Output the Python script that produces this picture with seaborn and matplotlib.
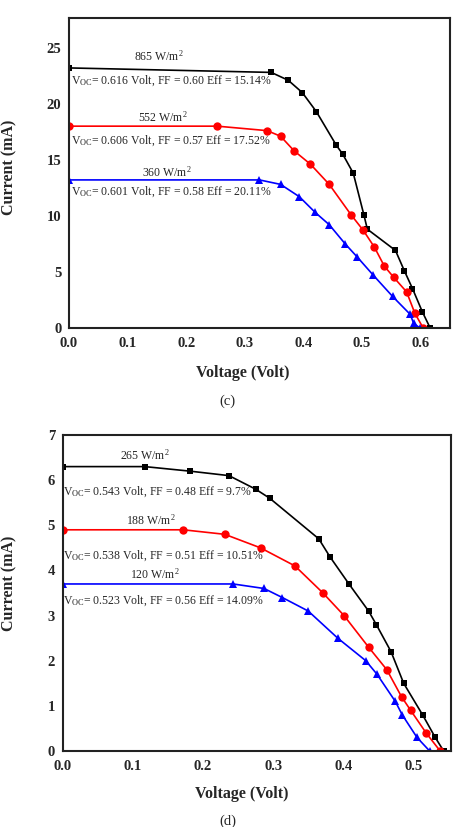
import pandas as pd
import matplotlib
matplotlib.use("Agg")
import matplotlib.pyplot as plt
import seaborn as sns

# panel (c)
v865 = [0, 0.345, 0.374, 0.398, 0.422, 0.456, 0.467, 0.485, 0.503, 0.509, 0.557, 0.572, 0.586, 0.603, 0.616]
i865 = [23.2, 22.8, 22.1, 21.0, 19.3, 16.3, 15.5, 13.8, 10.1, 8.8, 6.9, 5.1, 3.5, 1.4, 0]
v552 = [0, 0.253, 0.338, 0.361, 0.384, 0.412, 0.444, 0.481, 0.502, 0.521, 0.538, 0.554, 0.576, 0.590, 0.604]
i552 = [18.0, 18.0, 17.6, 17.1, 15.8, 14.6, 12.8, 10.1, 8.7, 7.2, 5.5, 4.5, 3.2, 1.3, 0]
v360 = [0, 0.325, 0.361, 0.393, 0.420, 0.444, 0.471, 0.492, 0.519, 0.552, 0.582, 0.588, 0.598]
i360 = [13.2, 13.2, 12.8, 11.7, 10.3, 9.2, 7.5, 6.3, 4.7, 2.8, 1.2, 0.4, 0]

# panel (d)
v265 = [0, 0.117, 0.181, 0.237, 0.275, 0.295, 0.365, 0.381, 0.408, 0.436, 0.447, 0.468, 0.486, 0.513, 0.531, 0.543]
i265 = [6.3, 6.3, 6.2, 6.1, 5.8, 5.6, 4.7, 4.3, 3.7, 3.1, 2.8, 2.2, 1.5, 0.8, 0.3, 0]
v188 = [0, 0.172, 0.231, 0.282, 0.331, 0.371, 0.401, 0.436, 0.462, 0.483, 0.496, 0.518, 0.538]
i188 = [4.9, 4.9, 4.8, 4.5, 4.1, 3.5, 3.0, 2.3, 1.8, 1.2, 0.9, 0.4, 0]
v120 = [0, 0.243, 0.287, 0.313, 0.350, 0.392, 0.432, 0.448, 0.474, 0.484, 0.505, 0.523]
i120 = [3.7, 3.7, 3.6, 3.4, 3.1, 2.5, 2.0, 1.7, 1.1, 0.8, 0.3, 0]

labels_c = ["865 W/m$^2$", "552 W/m$^2$", "360 W/m$^2$"]
notes_c = [r"V$_{\rm OC}$= 0.616 Volt, FF = 0.60 Eff = 15.14%",
           r"V$_{\rm OC}$= 0.606 Volt, FF = 0.57 Eff = 17.52%",
           r"V$_{\rm OC}$= 0.601 Volt, FF = 0.58 Eff = 20.11%"]
labels_d = ["265 W/m$^2$", "188 W/m$^2$", "120 W/m$^2$"]
notes_d = [r"V$_{\rm OC}$= 0.543 Volt, FF = 0.48 Eff = 9.7%",
           r"V$_{\rm OC}$= 0.538 Volt, FF = 0.51 Eff = 10.51%",
           r"V$_{\rm OC}$= 0.523 Volt, FF = 0.56 Eff = 14.09%"]

sns.set_style("white")
plt.rcParams["font.family"] = ["Liberation Serif", "DejaVu Serif"]
plt.rcParams["mathtext.fontset"] = "custom"
plt.rcParams["mathtext.rm"] = "Liberation Serif"
plt.rcParams["mathtext.it"] = "Liberation Serif:italic"

fig = plt.figure(figsize=(4.55, 8.27), dpi=100)
ax1 = fig.add_axes([0.1516, 0.6037, 0.8374, 0.3751])
ax2 = fig.add_axes([0.1378, 0.0919, 0.8527, 0.3821])

styles = [("black", "s", 5), ("red", "o", 6), ("blue", "^", 6)]


def draw(ax, series):
    for (v, i), (col, mk, ms) in zip(series, styles):
        df = pd.DataFrame({"V": v, "I": i})
        sns.lineplot(data=df, x="V", y="I", ax=ax, color=col, marker=mk,
                     markersize=ms, markeredgewidth=0, linewidth=1.2, sort=False)
    ax.set_xlabel("Voltage (Volt)", fontsize=11.5, fontweight="bold")
    ax.set_ylabel("Current (mA)", fontsize=11.5, fontweight="bold")
    ax.tick_params(axis="x", direction="in", length=4, width=1.2, labelsize=10.5, pad=6.5)
    ax.tick_params(axis="y", direction="out", length=4.5, width=1.2, labelsize=10.5, pad=1)
    for s in ax.spines.values():
        s.set_linewidth(1.5)
        s.set_color("#222222")


draw(ax1, [(v865, i865), (v552, i552), (v360, i360)])
ax1.set_xlim(0, 0.65)
ax1.set_ylim(0, 27.7)
ax1.set_xticks([0, 0.1, 0.2, 0.3, 0.4, 0.5, 0.6])
ax1.set_xticklabels(["0.0", "0.1", "0.2", "0.3", "0.4", "0.5", "0.6"])
ax1.set_yticks([0, 5, 10, 15, 20, 25])
for lab in ax1.get_xticklabels() + ax1.get_yticklabels():
    lab.set_fontweight("bold")
ax1.xaxis.set_label_coords(0.457, -0.119)
ax1.yaxis.set_label_coords(-0.136, 0.518)
for lab, x, y in zip(labels_c, [0.153, 0.160, 0.167], [24.2, 18.8, 13.9]):
    ax1.text(x, y, lab, ha="center", va="center", fontsize=8.5)
for note, y in zip(notes_c, [22.1, 16.7, 12.1]):
    ax1.text(0.004, y, note, ha="left", va="center", fontsize=8.5)

draw(ax2, [(v265, i265), (v188, i188), (v120, i120)])
ax2.set_xlim(0, 0.553)
ax2.set_ylim(0, 7)
ax2.set_xticks([0, 0.1, 0.2, 0.3, 0.4, 0.5])
ax2.set_xticklabels(["0.0", "0.1", "0.2", "0.3", "0.4", "0.5"])
ax2.set_yticks([0, 1, 2, 3, 4, 5, 6, 7])
for lab in ax2.get_xticklabels() + ax2.get_yticklabels():
    lab.set_fontweight("bold")
ax2.xaxis.set_label_coords(0.462, -0.111)
ax2.yaxis.set_label_coords(-0.118, 0.53)
for lab, x, y in zip(labels_d, [0.117, 0.126, 0.131], [6.54, 5.12, 3.91]):
    ax2.text(x, y, lab, ha="center", va="center", fontsize=8.5)
for note, y in zip(notes_d, [5.75, 4.32, 3.32]):
    ax2.text(0.001, y, note, ha="left", va="center", fontsize=8.5)

fig.text(0.5, 1 - 401 / 827, "(c)", ha="center", va="center", fontsize=10.5)
fig.text(0.5, 1 - 821 / 827, "(d)", ha="center", va="center", fontsize=10.5)

fig.savefig("out.png", dpi=100)
